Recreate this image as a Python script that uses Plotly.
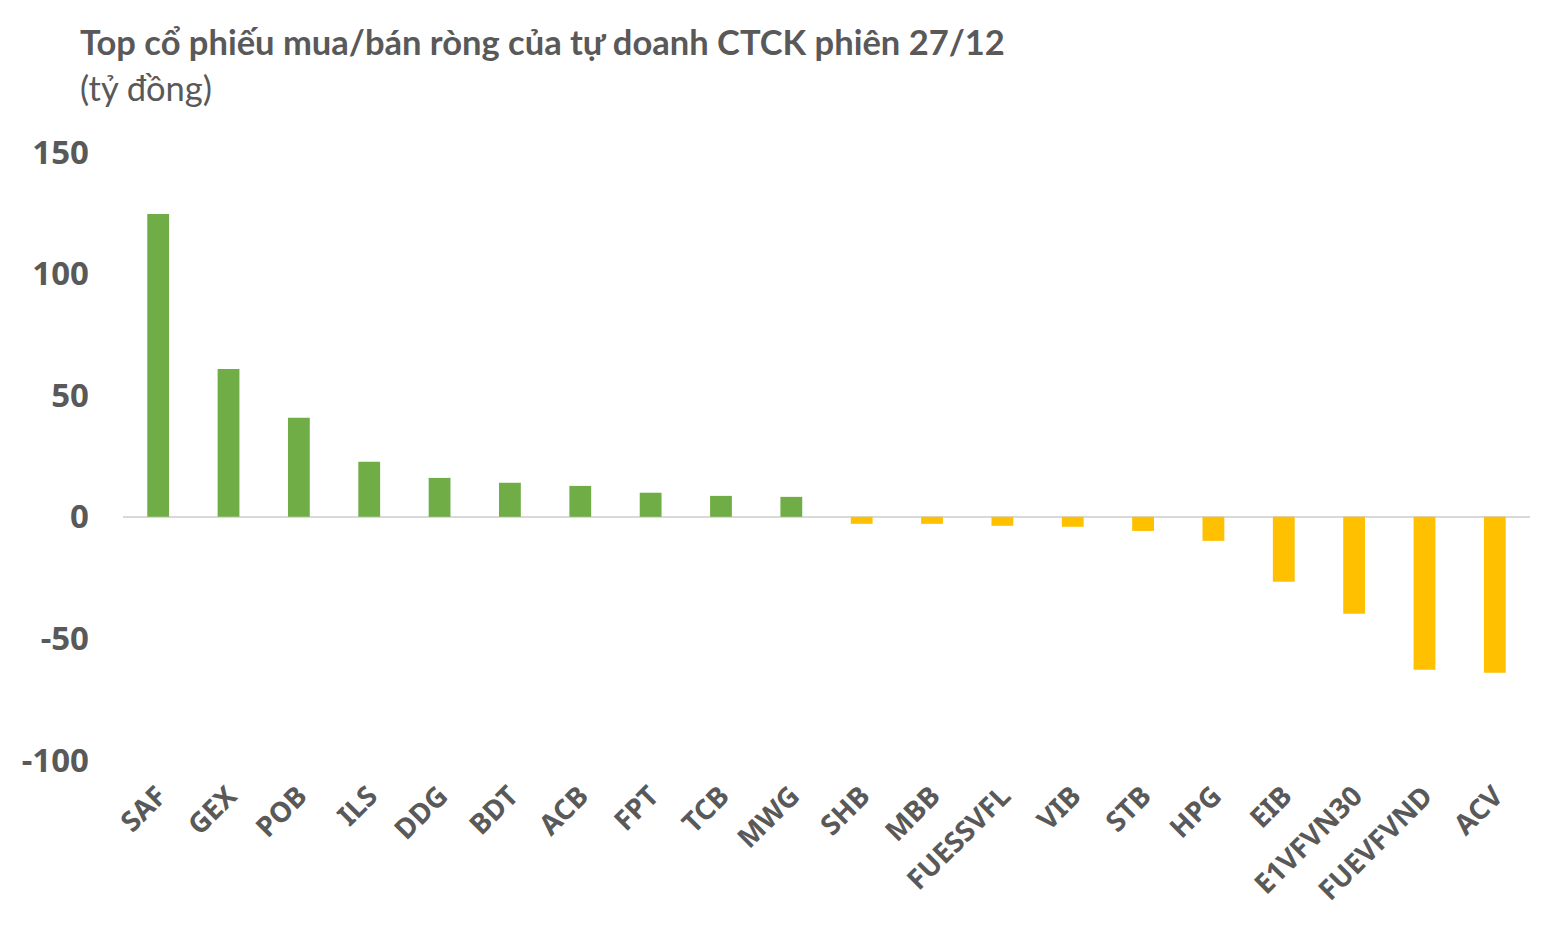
import plotly.graph_objects as go

categories = ["SAF", "GEX", "POB", "ILS", "DDG", "BDT", "ACB", "FPT", "TCB", "MWG",
              "SHB", "MBB", "FUESSVFL", "VIB", "STB", "HPG", "EIB", "E1VFVN30", "FUEVFVND", "ACV"]
values = [124.5, 60.8, 40.7, 22.6, 16.0, 14.0, 12.7, 9.9, 8.6, 8.2,
          -2.9, -2.9, -3.7, -4.1, -5.8, -9.9, -26.7, -39.9, -62.9, -64.1]
y_ticks = [-100, -50, 0, 50, 100, 150]
y_tick_labels = ["-100", "-50", "0", "50", "100", "150"]

title_text = "Top cổ phiếu mua/bán ròng của tự doanh CTCK phiên 27/12"
subtitle_text = "(tỷ đồng)"

GREEN = "#70AD47"
GOLD = "#FFC000"
TEXT = "#595959"

colors = [GREEN if v >= 0 else GOLD for v in values]

fig = go.Figure(go.Bar(x=categories, y=values, marker=dict(color=colors, line=dict(width=0)),
                       showlegend=False))

W, H = 1551, 931
L, R, T, B = 123, 21, 152, 171
ph = H - T - B

fig.update_layout(
    width=W, height=H,
    margin=dict(l=L, r=R, t=T, b=B, pad=0),
    paper_bgcolor="white", plot_bgcolor="white",
    bargap=0.69,
    font=dict(family="Noto Sans", color=TEXT),
    xaxis=dict(type="category", tickangle=-45, showgrid=False, showline=False,
               zeroline=False, ticks="", ticklabelstandoff=13,
               tickfont=dict(family="Noto Sans", size=28, color=TEXT, weight="bold")),
    yaxis=dict(range=[-100, 150], tickvals=y_ticks, ticktext=y_tick_labels,
               showgrid=False, showline=False,
               zeroline=True, zerolinecolor="#D9D9D9", zerolinewidth=2,
               ticks="", ticklabelstandoff=33,
               tickfont=dict(family="Noto Sans", size=33, color=TEXT, weight="bold")),
    annotations=[
        dict(text="<b>" + title_text + "</b>", xref="paper", yref="paper",
             x=(78 - L) / (W - L - R), y=1 + (T - 42) / ph, xanchor="left", yanchor="middle",
             showarrow=False, font=dict(family="Lato", size=34.5, color=TEXT)),
        dict(text=subtitle_text, xref="paper", yref="paper",
             x=(78 - L) / (W - L - R), y=1 + (T - 87) / ph, xanchor="left", yanchor="middle",
             showarrow=False, font=dict(family="Lato", size=34.5, color=TEXT)),
    ],
)

fig.write_html("out.html", config={"displayModeBar": False},
               post_script="document.body.style.margin='0';")
